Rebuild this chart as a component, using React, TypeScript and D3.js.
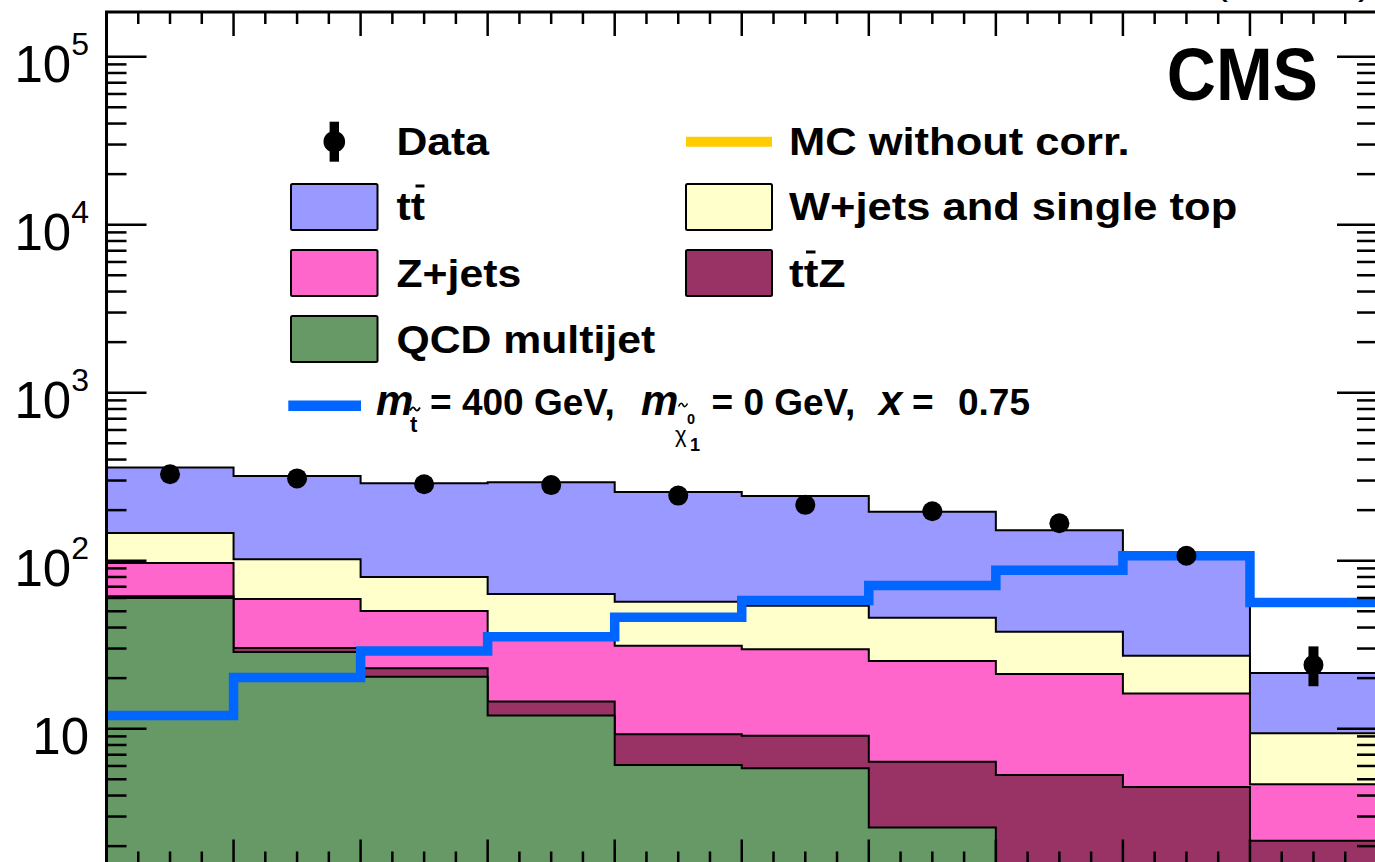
import React from 'react';
import * as d3 from 'd3';

// ---------------- data ----------------
const nBins = 10;
const qcdMultijet = [60.0, 28.6, 20.4, 12.0, 6.08, 5.81, 2.58, 0, 0, 0];
const ttZ = [1.5, 1.6, 2.5, 2.5, 3.19, 3.27, 3.78, 5.3, 4.5, 2.15];
const zJets = [35.4, 29.0, 27.3, 19.5, 21.9, 20.6, 18.9, 15.9, 11.7, 2.52];
const wJetsSingleTop = [49.1, 42.8, 29.8, 29.4, 25.8, 24.3, 20.5, 16.6, 11.0, 4.72];
const ttbar = [213, 217, 209, 230, 199, 189, 150, 114, 79, 12.1];
const dataCounts = [327, 309, 285, 282, 244, 215, 197, 167, 107, 24];
const dataErrUp = [18.6, 18.1, 17.4, 17.3, 16.1, 15.2, 14.5, 13.4, 10.9, 6.9];
const dataErrDown = [17.6, 17.1, 16.4, 16.3, 15.1, 14.2, 13.5, 12.4, 9.9, 6.1];
const signal = [12.0, 20.2, 29.0, 35.3, 46.1, 58.0, 71.3, 87.6, 107, 56.4];
const yDecades = [1, 2, 3, 4, 5];

const FONT = "'Liberation Sans', Arial, Helvetica, sans-serif";
const COLORS = {
  ttbar: '#9999ff',
  wjets: '#ffffcc',
  zjets: '#ff66cc',
  ttz: '#993366',
  qcd: '#669966',
  signal: '#0066ff',
  mc: '#ffcc00',
};

function LText(props: { x: number; y: number; sx?: number; size?: number; children: React.ReactNode }) {
  const { x, y, sx = 1.11, size = 38.5, children } = props;
  return (
    <text
      transform={`translate(${x},${y}) scale(${sx},1)`}
      fontFamily={FONT}
      fontWeight={700}
      fontSize={size}
    >
      {children}
    </text>
  );
}

export default function App() {
  const W = 1375;
  const H = 862;
  const frame = { left: 106.5, right: 1377, top: 12, bottom: 863.5 };

  const x = d3.scaleLinear().domain([0, nBins]).range([frame.left, frame.right]);
  const y = d3.scaleLog().domain([1, 1e5]).range([896.7, 56.7]);
  const yv = (v: number) => y(Math.max(v, 0.3));

  // cumulative stack (bottom -> top)
  const parts = [
    { vals: qcdMultijet, color: COLORS.qcd },
    { vals: ttZ, color: COLORS.ttz },
    { vals: zJets, color: COLORS.zjets },
    { vals: wJetsSingleTop, color: COLORS.wjets },
    { vals: ttbar, color: COLORS.ttbar },
  ];
  let running = new Array(nBins).fill(0);
  const cumLayers = parts.map((p) => {
    running = running.map((r, i) => r + p.vals[i]);
    return { color: p.color, vals: running.slice() };
  });

  const area = d3
    .area<number>()
    .x((_, i) => x(i))
    .y0(950)
    .y1((d) => yv(d))
    .curve(d3.curveStepAfter);
  const line = d3
    .line<number>()
    .x((_, i) => x(i))
    .y((d) => yv(d))
    .curve(d3.curveStepAfter);
  const ext = (a: number[]) => [...a, a[a.length - 1]];

  // ticks
  const xMajor = d3.range(0, nBins + 1);
  const xMinor = d3.range(0, nBins * 4 + 1).filter((i) => i % 4 !== 0).map((i) => i / 4);
  const yMajor: number[] = [];
  const yMinor: number[] = [];
  for (let e = -1; e <= 5; e++) {
    const v = Math.pow(10, e);
    yMajor.push(v);
    for (let m = 2; m <= 9; m++) yMinor.push(m * v);
  }
  const inFrame = (v: number) => y(v) >= frame.top && y(v) <= frame.bottom;

  const legendTextStyle = { fontFamily: FONT, fontWeight: 700, fontSize: 37 } as const;

  const tilde = (cx: number, cy: number, w: number) =>
    `M${cx - w / 2},${cy + 1.5} C${cx - w / 4},${cy - 3} ${cx - w / 8},${cy - 2} ${cx},${cy} S${cx + w / 4},${cy + 3} ${cx + w / 2},${cy - 1.5}`;

  return (
    <svg width={W} height={H} style={{ display: 'block', background: '#fff' }}>
      <style>{`body{margin:0;}`}</style>
      <defs>
        <clipPath id="plotClip">
          <rect x={frame.left} y={frame.top} width={frame.right - frame.left} height={frame.bottom - frame.top} />
        </clipPath>
      </defs>

      <g clipPath="url(#plotClip)">
        {cumLayers
          .slice()
          .reverse()
          .map((l, i) => (
            <path key={i} d={area(ext(l.vals)) || ''} fill={l.color} stroke="#000" strokeWidth={2} />
          ))}
        <path
          d={line(ext(signal)) || ''}
          fill="none"
          stroke={COLORS.signal}
          strokeWidth={9.5}
          strokeLinejoin="miter"
        />
        {dataCounts.map((d, i) => {
          const cx = x(i + 0.5);
          return (
            <g key={i}>
              <rect
                x={cx - 5}
                y={yv(d + dataErrUp[i])}
                width={10}
                height={yv(d - dataErrDown[i]) - yv(d + dataErrUp[i])}
                fill="#000"
              />
              <circle cx={cx} cy={yv(d)} r={10} fill="#000" />
            </g>
          );
        })}
      </g>

      {/* frame */}
      <rect
        x={frame.left}
        y={frame.top}
        width={frame.right - frame.left}
        height={frame.bottom - frame.top}
        fill="none"
        stroke="#000"
        strokeWidth={3}
      />
      {/* x ticks top & bottom */}
      {xMajor.map((t) => (
        <g key={'xM' + t}>
          <line x1={x(t)} x2={x(t)} y1={frame.top} y2={frame.top + 24} stroke="#000" strokeWidth={2.5} />
          <line x1={x(t)} x2={x(t)} y1={frame.bottom} y2={frame.bottom - 24} stroke="#000" strokeWidth={2.5} />
        </g>
      ))}
      {xMinor.map((t) => (
        <g key={'xm' + t}>
          <line x1={x(t)} x2={x(t)} y1={frame.top} y2={frame.top + 12} stroke="#000" strokeWidth={2.5} />
          <line x1={x(t)} x2={x(t)} y1={frame.bottom} y2={frame.bottom - 12} stroke="#000" strokeWidth={2.5} />
        </g>
      ))}
      {/* y ticks left & right */}
      {yMajor.filter(inFrame).map((v) => (
        <g key={'yM' + v}>
          <line x1={frame.left} x2={frame.left + 40} y1={y(v)} y2={y(v)} stroke="#000" strokeWidth={2.5} />
          <line x1={frame.right} x2={frame.right - 40} y1={y(v)} y2={y(v)} stroke="#000" strokeWidth={2.5} />
        </g>
      ))}
      {yMinor.filter(inFrame).map((v) => (
        <g key={'ym' + v}>
          <line x1={frame.left} x2={frame.left + 20} y1={y(v)} y2={y(v)} stroke="#000" strokeWidth={2.5} />
          <line x1={frame.right} x2={frame.right - 20} y1={y(v)} y2={y(v)} stroke="#000" strokeWidth={2.5} />
        </g>
      ))}
      {/* y tick labels */}
      {yDecades.map((k) => (
        <text key={'yl' + k} x={89} y={y(Math.pow(10, k)) + 25} textAnchor="end" fontFamily={FONT} fontSize={51}>
          10
          {k > 1 ? (
            <tspan fontSize={32} dy={-26.7}>
              {k}
            </tspan>
          ) : null}
        </text>
      ))}

      {/* luminosity label (cropped at top) */}
      <text x={1372} y={-7} textAnchor="end" fontFamily={FONT} fontSize={42}>
        35.9 fb<tspan fontSize={27} dy={-15}>-1</tspan>
        <tspan dy={15}> (13 TeV)</tspan>
      </text>

      {/* CMS */}
      <text
        transform="translate(1318,100) scale(0.92,1)"
        textAnchor="end"
        fontFamily={FONT}
        fontWeight={700}
        fontSize={74}
      >
        CMS
      </text>

      {/* legend */}
      <g>
        {/* Data */}
        <rect x={334.3 - 4.7} y={121.7} width={9.4} height={40} fill="#000" />
        <circle cx={334.3} cy={141.7} r={10.8} fill="#000" />
        <LText x={396.5} y={155}>Data</LText>

        {/* ttbar */}
        <rect x={291} y={184} width={86.5} height={46} fill={COLORS.ttbar} stroke="#000" strokeWidth={2} rx={1.5} />
        <LText x={396.5} y={220}>tt</LText>
        <line x1={415.5} x2={424.5} y1={186} y2={186} stroke="#000" strokeWidth={3} />

        {/* Z+jets */}
        <rect x={291} y={250} width={86.5} height={46} fill={COLORS.zjets} stroke="#000" strokeWidth={2} rx={1.5} />
        <LText x={396.5} y={286.7}>Z+jets</LText>

        {/* QCD */}
        <rect x={291} y={316} width={86.5} height={46} fill={COLORS.qcd} stroke="#000" strokeWidth={2} rx={1.5} />
        <LText x={396.5} y={353}>QCD multijet</LText>

        {/* MC without corr */}
        <line x1={686} x2={772} y1={141.7} y2={141.7} stroke={COLORS.mc} strokeWidth={10} />
        <LText x={789} y={155} sx={1.13}>MC without corr.</LText>

        {/* W+jets */}
        <rect x={686} y={184} width={86} height={46} fill={COLORS.wjets} stroke="#000" strokeWidth={2} rx={1.5} />
        <LText x={789} y={220} sx={1.13}>W+jets and single top</LText>

        {/* ttZ */}
        <rect x={686} y={250} width={86} height={46} fill={COLORS.ttz} stroke="#000" strokeWidth={2} rx={1.5} />
        <LText x={789} y={286.7} sx={1.15}>ttZ</LText>
        <line x1={806} x2={815.5} y1={252} y2={252} stroke="#000" strokeWidth={3} />

        {/* signal */}
        <line x1={288.3} x2={361} y1={405.7} y2={405.7} stroke={COLORS.signal} strokeWidth={10.5} />
        <text x={376} y={415} fontFamily={FONT} fontWeight={700} fontStyle="italic" fontSize={42}>m</text>
        <text x={410} y={432} fontFamily={FONT} fontWeight={700} fontSize={22}>t</text>
        <path d={tilde(415, 409, 10)} fill="none" stroke="#000" strokeWidth={1.8} />
        <text x={430} y={415} {...legendTextStyle}>= 400 GeV,</text>
        <text x={641} y={415} fontFamily={FONT} fontWeight={700} fontStyle="italic" fontSize={42}>m</text>
        <text x={675} y={442} fontFamily={FONT} fontSize={22}>χ</text>
        <path d={tilde(683, 405, 9)} fill="none" stroke="#000" strokeWidth={1.6} />
        <text x={687} y={423.5} fontFamily={FONT} fontWeight={700} fontSize={14.5}>0</text>
        <text x={690} y={451} fontFamily={FONT} fontWeight={700} fontSize={18}>1</text>
        <text x={711.5} y={415} {...legendTextStyle}>= 0 GeV,</text>
        <text x={879} y={415} fontFamily={FONT} fontWeight={700} fontStyle="italic" fontSize={42}>x</text>
        <text x={912} y={415} {...legendTextStyle}>=</text>
        <text x={958} y={415} {...legendTextStyle}>0.75</text>
      </g>
    </svg>
  );
}
